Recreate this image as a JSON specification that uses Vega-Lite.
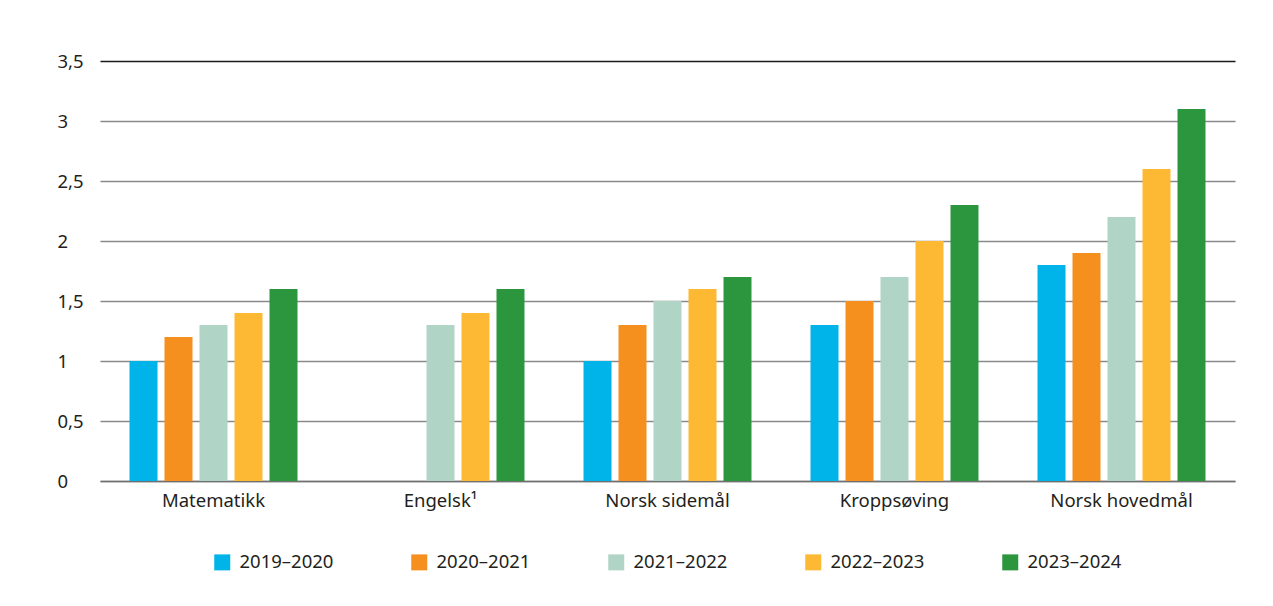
{
  "$schema": "https://vega.github.io/schema/vega-lite/v6.json",
  "autosize": {"type": "none"},
  "width": 1135,
  "height": 420,
  "padding": {"left": 100, "top": 61, "right": 38, "bottom": 125},
  "background": "white",
  "data": {
    "values": [
      {"fag": "Matematikk", "år": "2019–2020", "verdi": 1.0},
      {"fag": "Matematikk", "år": "2020–2021", "verdi": 1.2},
      {"fag": "Matematikk", "år": "2021–2022", "verdi": 1.3},
      {"fag": "Matematikk", "år": "2022–2023", "verdi": 1.4},
      {"fag": "Matematikk", "år": "2023–2024", "verdi": 1.6},
      {"fag": "Engelsk¹", "år": "2021–2022", "verdi": 1.3},
      {"fag": "Engelsk¹", "år": "2022–2023", "verdi": 1.4},
      {"fag": "Engelsk¹", "år": "2023–2024", "verdi": 1.6},
      {"fag": "Norsk sidemål", "år": "2019–2020", "verdi": 1.0},
      {"fag": "Norsk sidemål", "år": "2020–2021", "verdi": 1.3},
      {"fag": "Norsk sidemål", "år": "2021–2022", "verdi": 1.5},
      {"fag": "Norsk sidemål", "år": "2022–2023", "verdi": 1.6},
      {"fag": "Norsk sidemål", "år": "2023–2024", "verdi": 1.7},
      {"fag": "Kroppsøving", "år": "2019–2020", "verdi": 1.3},
      {"fag": "Kroppsøving", "år": "2020–2021", "verdi": 1.5},
      {"fag": "Kroppsøving", "år": "2021–2022", "verdi": 1.7},
      {"fag": "Kroppsøving", "år": "2022–2023", "verdi": 2.0},
      {"fag": "Kroppsøving", "år": "2023–2024", "verdi": 2.3},
      {"fag": "Norsk hovedmål", "år": "2019–2020", "verdi": 1.8},
      {"fag": "Norsk hovedmål", "år": "2020–2021", "verdi": 1.9},
      {"fag": "Norsk hovedmål", "år": "2021–2022", "verdi": 2.2},
      {"fag": "Norsk hovedmål", "år": "2022–2023", "verdi": 2.6},
      {"fag": "Norsk hovedmål", "år": "2023–2024", "verdi": 3.1}
    ]
  },
  "mark": {"type": "bar"},
  "encoding": {
    "x": {
      "field": "fag",
      "type": "nominal",
      "sort": ["Matematikk", "Engelsk¹", "Norsk sidemål", "Kroppsøving", "Norsk hovedmål"],
      "scale": {"paddingInner": 0.26, "paddingOuter": 0.13},
      "axis": {
        "title": null,
        "labelAngle": 0,
        "ticks": false,
        "labelPadding": 10,
        "domainColor": "#707070",
        "domainWidth": 1.5,
        "grid": false
      }
    },
    "xOffset": {
      "field": "år",
      "type": "nominal",
      "sort": ["2019–2020", "2020–2021", "2021–2022", "2022–2023", "2023–2024"],
      "scale": {"domain": ["2019–2020", "2020–2021", "2021–2022", "2022–2023", "2023–2024"], "paddingInner": 0.2, "paddingOuter": 0}
    },
    "y": {
      "field": "verdi",
      "type": "quantitative",
      "scale": {"domain": [0, 3.5], "nice": false},
      "axis": {
        "title": null,
        "values": [0, 0.5, 1, 1.5, 2, 2.5, 3, 3.5],
        "domain": false,
        "ticks": false,
        "labelAlign": "left",
        "labelPadding": 43,
        "labelExpr": "replace(toString(datum.value), '.', ',')",
        "gridColor": {"condition": {"test": "datum.value === 3.5", "value": "#1a1a1a"}, "value": "#8a8a8a"},
        "gridWidth": 1.3
      }
    },
    "color": {
      "field": "år",
      "type": "nominal",
      "scale": {
        "domain": ["2019–2020", "2020–2021", "2021–2022", "2022–2023", "2023–2024"],
        "range": ["#00b4ea", "#f5901e", "#b0d4c5", "#fdb933", "#2c963f"]
      },
      "legend": {
        "title": null,
        "orient": "bottom",
        "direction": "horizontal",
        "columns": 5,
        "symbolType": "square",
        "symbolSize": 256,
        "symbolStrokeWidth": 0,
        "labelFontSize": 18.5,
        "labelOffset": 8,
        "columnPadding": 76,
        "offset": 43
      }
    }
  },
  "config": {
    "font": "Noto Sans",
    "view": {"stroke": null},
    "axis": {"labelFontSize": 18.5, "labelColor": "#231f20", "labelFont": "Noto Sans"},
    "legend": {"labelColor": "#231f20", "labelFont": "Noto Sans", "layout": {"bottom": {"anchor": "middle"}}}
  }
}
